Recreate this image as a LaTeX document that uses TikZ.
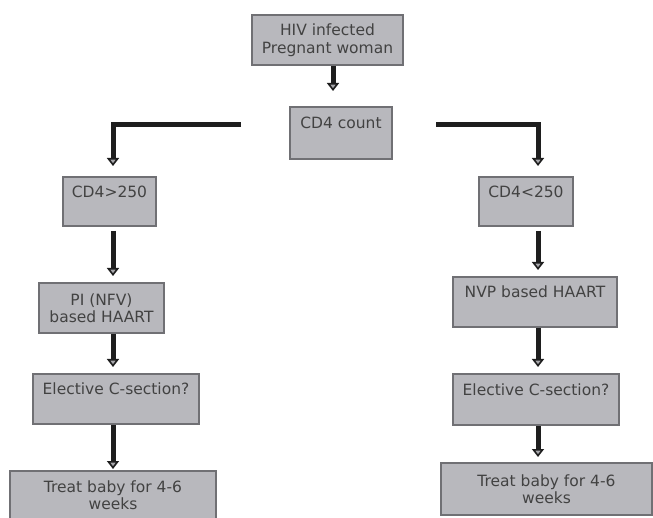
\documentclass[tikz,border=0pt]{standalone}
\usepackage{fontspec}
\setmainfont{DejaVu Sans}
\usetikzlibrary{arrows.meta}
\definecolor{boxfill}{RGB}{184,184,189}
\definecolor{boxline}{RGB}{112,112,116}
\definecolor{boxtext}{RGB}{66,66,66}
\definecolor{shaft}{RGB}{30,30,30}
\tikzset{
  box/.style={draw=boxline, line width=2pt, fill=boxfill, text=boxtext, align=center,
    font=\fontsize{15.5}{17.5}\selectfont, inner sep=3pt},
  oneline/.style={box, text height=16pt, text depth=24pt},
  flow/.style={draw=shaft, line width=5pt, line join=miter, shorten >=6pt,
    -{Triangle[width=12pt, length=8pt, color=shaft, fill=boxfill!70!gray, line width=1.6pt]}},
}
\begin{document}
\begin{tikzpicture}[x=1pt, y=-1pt]
                \useasboundingbox (0,0) rectangle (653,518);
                % columns of the arrows
                \coordinate (colM) at (333,0);
                \coordinate (colL) at (113,0);
                \coordinate (colR) at (538,0);

                % Start
                \node[box, minimum width=151pt, minimum height=50pt] (hiv) at (327.5,40) {HIV infected\\Pregnant woman};
                \node[oneline, minimum width=102pt, minimum height=52pt] (cd4) at (341,133) {CD4 count};

                % Left branch
                \node[oneline, minimum width=93pt, minimum height=49pt] (gt) at (109.5,201.5) {CD4>250};
                \node[box, minimum width=125pt, minimum height=50pt] (pi) at (101.5,308) {PI (NFV)\\based HAART};
                \node[oneline, minimum width=166pt, minimum height=50pt] (csecL) at (116,399) {Elective C-section?};
                \node[box, minimum width=206pt, minimum height=48pt] (babyL) at (113,495) {Treat baby for 4-6\\weeks};

                % Right branch
                \node[oneline, minimum width=94pt, minimum height=49pt] (lt) at (526,201.5) {CD4<250};
                \node[oneline, minimum width=164pt, minimum height=50pt] (nvp) at (535,302) {NVP based HAART};
                \node[oneline, minimum width=166pt, minimum height=51pt] (csecR) at (536,399.5) {Elective C-section?};
                \node[box, minimum width=211pt, minimum height=52pt] (babyR) at (546.5,489) {Treat baby for 4-6\\weeks};

                % Arrows
                \draw[flow, shorten >=15pt] (hiv.south -| colM) -- (cd4.north -| colM);
                \draw[flow, shorten <=48pt, shorten >=10pt] ([yshift=8pt]cd4.west) -| (gt.north -| colL);
                \draw[flow, shorten <=43pt, shorten >=10pt] ([yshift=8pt]cd4.east) -| (lt.north -| colR);
                \draw[flow, shorten <=4pt] (gt.south -| colL) -- (pi.north -| colL);
                \draw[flow] (pi.south -| colL) -- (csecL.north -| colL);
                \draw[flow, shorten >=1pt] (csecL.south -| colL) -- (babyL.north -| colL);
                \draw[flow, shorten <=4pt] (lt.south -| colR) -- (nvp.north -| colR);
                \draw[flow] (nvp.south -| colR) -- (csecR.north -| colR);
                \draw[flow, shorten >=5pt] (csecR.south -| colR) -- (babyR.north -| colR);
            \end{tikzpicture}
\end{document}
